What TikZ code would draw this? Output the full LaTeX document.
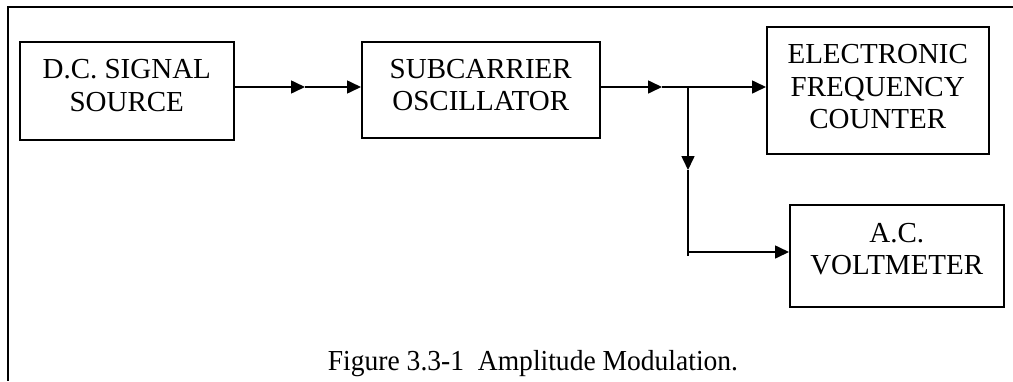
\documentclass[tikz,border=0pt]{standalone}
\usepackage{fontspec}
\setmainfont{Liberation Serif}
\usetikzlibrary{arrows.meta}
\newcommand\boxlines[2]{\raisebox{#1}[\height][\depth]{\begin{tabular}{@{}c@{}}#2\end{tabular}}}
\begin{document}
\begin{tikzpicture}[x=1pt,y=-1pt,
  box/.style={draw, line width=1.5pt, inner sep=0pt, anchor=north west,
    font=\fontsize{29}{32.5}\selectfont},
  wire/.style={line width=1.6pt},
  arr/.style={wire, -{Triangle[length=14pt,width=13pt]}},
  frame/.style={line width=2.6pt}]
\useasboundingbox (0,0) rectangle (1013,381);
% frame
\coordinate (ftl) at (8,7);
\coordinate (ftr) at (1013,7);
\coordinate (fbl) at (8,381);
\draw[frame] (ftr) -- (ftl) -- (fbl);
% boxes
\node[box, minimum width=214pt, minimum height=98pt] (src) at (19,41) {\boxlines{2.5pt}{D.C. SIGNAL\\SOURCE}};
\node[box, minimum width=238pt, minimum height=96pt] (osc) at (361,41) {\boxlines{2pt}{SUBCARRIER\\OSCILLATOR}};
\node[box, minimum width=222pt, minimum height=127pt] (cnt) at (766,26) {\boxlines{0.5pt}{ELECTRONIC\\FREQUENCY\\COUNTER}};
\node[box, minimum width=214pt, minimum height=102pt] (vm) at (789,204) {\boxlines{4pt}{A.C.\\VOLTMETER}};
% connectors
\coordinate (m1) at (305,87);
\coordinate (m2) at (662,87);
\coordinate (j) at (688,87);
\coordinate (m3) at (688,170);
\coordinate (c) at (688,252);
\coordinate (ce) at (688,256);
\draw[arr] (src.east |- m1) -- (m1);
\draw[arr] (m1) -- (osc.west |- m1);
\draw[arr] (osc.east |- m2) -- (m2);
\draw[wire] (m2) -- (j);
\draw[arr] (j) -- (cnt.west |- j);
\draw[arr] (j) -- (m3);
\draw[wire] (m3) -- (ce);
\draw[arr] (c) -- (vm.west |- c);
% caption
\node[anchor=base, inner sep=0pt, font=\fontsize{29}{32}\selectfont] (cap) at (533,370)
  {\scalebox{0.95}[1]{Figure 3.3-1\ \ Amplitude Modulation.}};
\end{tikzpicture}
\end{document}
